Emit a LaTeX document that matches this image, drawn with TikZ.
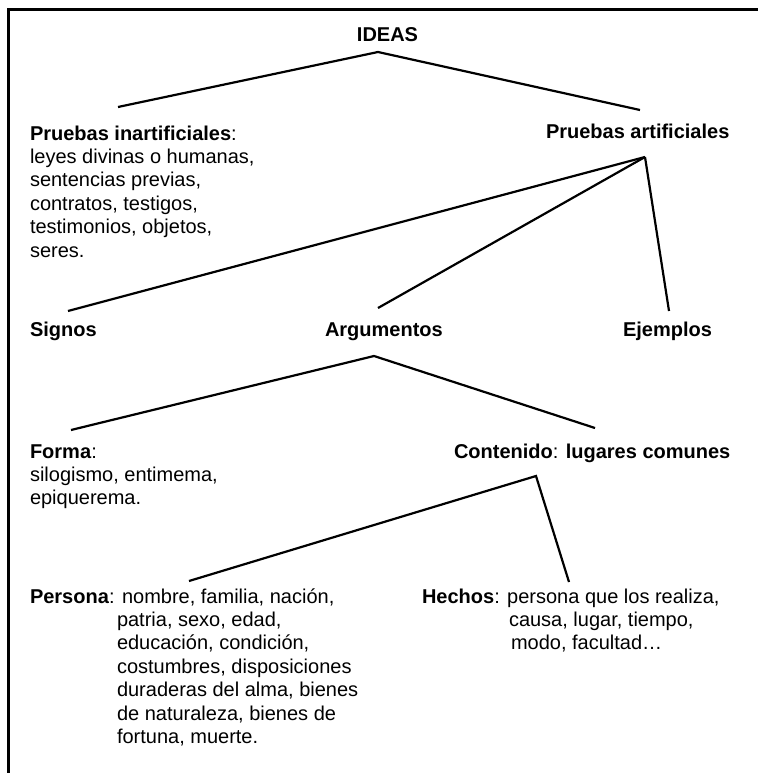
\documentclass[tikz,border=0pt]{standalone}
\usepackage{fontspec}
\setmainfont{Liberation Sans}
\begin{document}
\begin{tikzpicture}[x=1pt,y=-1pt,
  txt/.style={inner sep=0pt, outer sep=0pt, anchor=base west, font=\fontsize{20}{23.4}\selectfont},
  link/.style={line width=2.2pt, line cap=butt},
  frame/.style={line width=3pt, line join=miter}]
\useasboundingbox (0,0) rectangle (758,773);
\draw[frame] (8.5,773) -- (8.5,10) -- (758,10);

% nodes
\node[txt, anchor=base] (ideas) at (387.5,42) {\textbf{IDEAS}};
\node[txt] (inart) at (30,140) {\begin{tabular}[t]{@{}l@{}}\textbf{Pruebas inartificiales}:\\ leyes divinas o humanas,\\ sentencias previas,\\ contratos, testigos,\\ testimonios, objetos,\\ seres.\end{tabular}};
\node[txt] (art) at (546,139) {\textbf{Pruebas artificiales}};
\node[txt] (signos) at (30,336) {\textbf{Signos}};
\node[txt] (argum) at (325,336) {\textbf{Argumentos}};
\node[txt] (ejem) at (623,336) {\textbf{Ejemplos}};
\node[txt] (forma) at (30,458) {\begin{tabular}[t]{@{}l@{}}\textbf{Forma}:\\ silogismo, entimema,\\ epiquerema.\end{tabular}};
\node[txt] (conten) at (454,458) {\textbf{Contenido}: \textbf{lugares comunes}};
\node[txt] (persona) at (30,603) {\begin{tabular}[t]{@{}l@{}}\textbf{Persona}: nombre, familia, nación,\\
 \hspace*{87pt}patria, sexo, edad,\\
 \hspace*{87pt}educación, condición,\\
 \hspace*{87pt}costumbres, disposiciones\\
 \hspace*{87pt}duraderas del alma, bienes\\
 \hspace*{87pt}de naturaleza, bienes de\\
 \hspace*{87pt}fortuna, muerte.\end{tabular}};
\node[txt] (hechos) at (422,603) {\begin{tabular}[t]{@{}l@{}}\textbf{Hechos}: persona que los realiza,\\
 \hspace*{87pt}causa, lugar, tiempo,\\
 \hspace*{89pt}modo, facultad…\end{tabular}};

% connector end points
\coordinate (ideasB) at (378,52);
\coordinate (inartT) at (118,107);
\coordinate (artT) at (640,110);
\coordinate (artB) at (645,157);
\coordinate (signosT) at (68,311);
\coordinate (argumT) at (378,308);
\coordinate (ejemT) at (669,311);
\coordinate (argumB) at (374,356);
\coordinate (formaT) at (71,430);
\coordinate (contenT) at (595,428);
\coordinate (contenB) at (536,476);
\coordinate (personaT) at (189,581);
\coordinate (hechosT) at (569,582);

% connectors
\draw[link] (inartT) -- (ideasB) -- (artT);
\draw[link] (signosT) -- (artB);
\draw[link] (argumT) -- (artB);
\draw[link] (ejemT) -- (artB);
\draw[link] (formaT) -- (argumB) -- (contenT);
\draw[link] (personaT) -- (contenB) -- (hechosT);
\end{tikzpicture}
\end{document}
